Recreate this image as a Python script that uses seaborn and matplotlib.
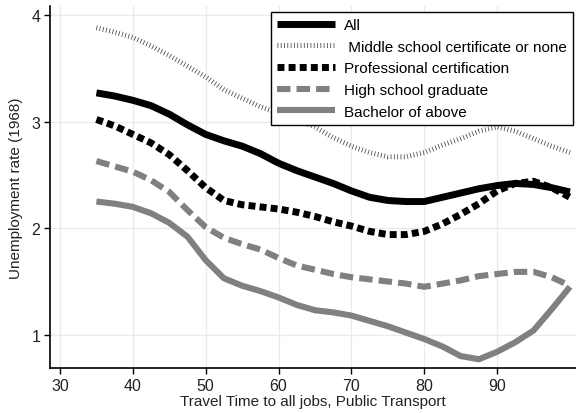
import matplotlib
matplotlib.use("Agg")
import matplotlib.pyplot as plt
import seaborn as sns

# Travel time grid (minutes) and smoothed unemployment rates by education group
travel_time = [35, 37.5, 40, 42.5, 45, 47.5, 50, 52.5, 55, 57.5, 60, 62.5, 65, 67.5,
               70, 72.5, 75, 77.5, 80, 82.5, 85, 87.5, 90, 92.5, 95, 97.5, 100]

rate_all = [3.27, 3.24, 3.20, 3.15, 3.07, 2.97, 2.88, 2.82, 2.77, 2.70, 2.61, 2.54, 2.48, 2.42,
            2.35, 2.29, 2.26, 2.25, 2.25, 2.29, 2.33, 2.37, 2.40, 2.42, 2.41, 2.38, 2.34]
rate_middle = [3.88, 3.84, 3.79, 3.71, 3.62, 3.52, 3.42, 3.30, 3.22, 3.14, 3.08, 3.02, 2.95, 2.85,
               2.77, 2.71, 2.67, 2.67, 2.71, 2.78, 2.84, 2.91, 2.95, 2.91, 2.84, 2.77, 2.71]
rate_prof = [3.02, 2.96, 2.88, 2.80, 2.69, 2.54, 2.38, 2.26, 2.22, 2.20, 2.18, 2.15, 2.11, 2.06,
             2.02, 1.97, 1.94, 1.94, 1.97, 2.04, 2.13, 2.23, 2.35, 2.42, 2.44, 2.38, 2.29]
rate_hs = [2.63, 2.58, 2.53, 2.45, 2.34, 2.17, 2.01, 1.91, 1.85, 1.80, 1.72, 1.65, 1.61, 1.57,
           1.54, 1.52, 1.50, 1.48, 1.45, 1.48, 1.51, 1.55, 1.57, 1.59, 1.59, 1.54, 1.46]
rate_bach = [2.25, 2.23, 2.20, 2.14, 2.05, 1.92, 1.70, 1.53, 1.46, 1.41, 1.35, 1.28, 1.23, 1.21,
             1.18, 1.13, 1.08, 1.02, 0.96, 0.89, 0.80, 0.77, 0.84, 0.93, 1.04, 1.24, 1.45]

labels = ["All", " Middle school certificate or none", "Professional certification",
          "High school graduate", "Bachelor of above"]
x_ticks = [30, 40, 50, 60, 70, 80, 90]
y_ticks = [1, 2, 3, 4]

sns.set_theme(style="ticks")
plt.rcParams["font.family"] = ["Liberation Sans", "DejaVu Sans"]

fig = plt.figure(figsize=(5.76, 4.14), dpi=100)
ax = fig.add_axes([50 / 576, 45 / 414, 526 / 576, 362 / 414])

styles = [
    dict(color="black", linewidth=5.0, linestyle="-"),
    dict(color="#4a4a4a", linewidth=3.6, linestyle=(0, (0.16, 0.5))),
    dict(color="black", linewidth=5.0, linestyle=(0, (1.0, 0.6))),
    dict(color="#808080", linewidth=4.4, linestyle=(0, (2.2, 1.0))),
    dict(color="#808080", linewidth=4.4, linestyle="-"),
]
series = [rate_all, rate_middle, rate_prof, rate_hs, rate_bach]

handles = []
for vals, lab, st in zip(series, labels, styles):
    sns.lineplot(x=travel_time, y=vals, ax=ax, label=lab, dash_capstyle="butt",
                 solid_capstyle="butt", **st)
    handles.append(ax.lines[-1])

ax.set_xlim(28.63, 100.83)
ax.set_ylim(0.688, 4.085)
ax.set_xticks(x_ticks)
ax.set_yticks(y_ticks)
ax.grid(True, color="#ebebeb", linewidth=1.0)
ax.set_axisbelow(True)
for side in ["top", "right"]:
    ax.spines[side].set_visible(False)
for side in ["left", "bottom"]:
    ax.spines[side].set_color("black")
    ax.spines[side].set_linewidth(1.2)
ax.tick_params(axis="both", length=4, width=1, color="black", labelsize=11.5,
               labelcolor="#222222", pad=3)

ax.set_xlabel("Travel Time to all jobs, Public Transport", fontsize=11, color="#222222",
              labelpad=1)
ax.set_ylabel("Unemployment rate (1968)", fontsize=11, color="#222222", labelpad=6)

leg = ax.legend(handles=handles, labels=labels, loc="upper right",
                bbox_to_anchor=(573 / 576, (414 - 13) / 414), bbox_transform=fig.transFigure,
                frameon=True, fancybox=False, framealpha=1, edgecolor="black",
                fontsize=11, handlelength=3.8, handletextpad=0.6, labelspacing=0.5,
                borderpad=0.4, borderaxespad=0)
leg.get_frame().set_linewidth(1.0)
for t in leg.get_texts():
    t.set_color("black")

fig.savefig("out.png", dpi=100)
